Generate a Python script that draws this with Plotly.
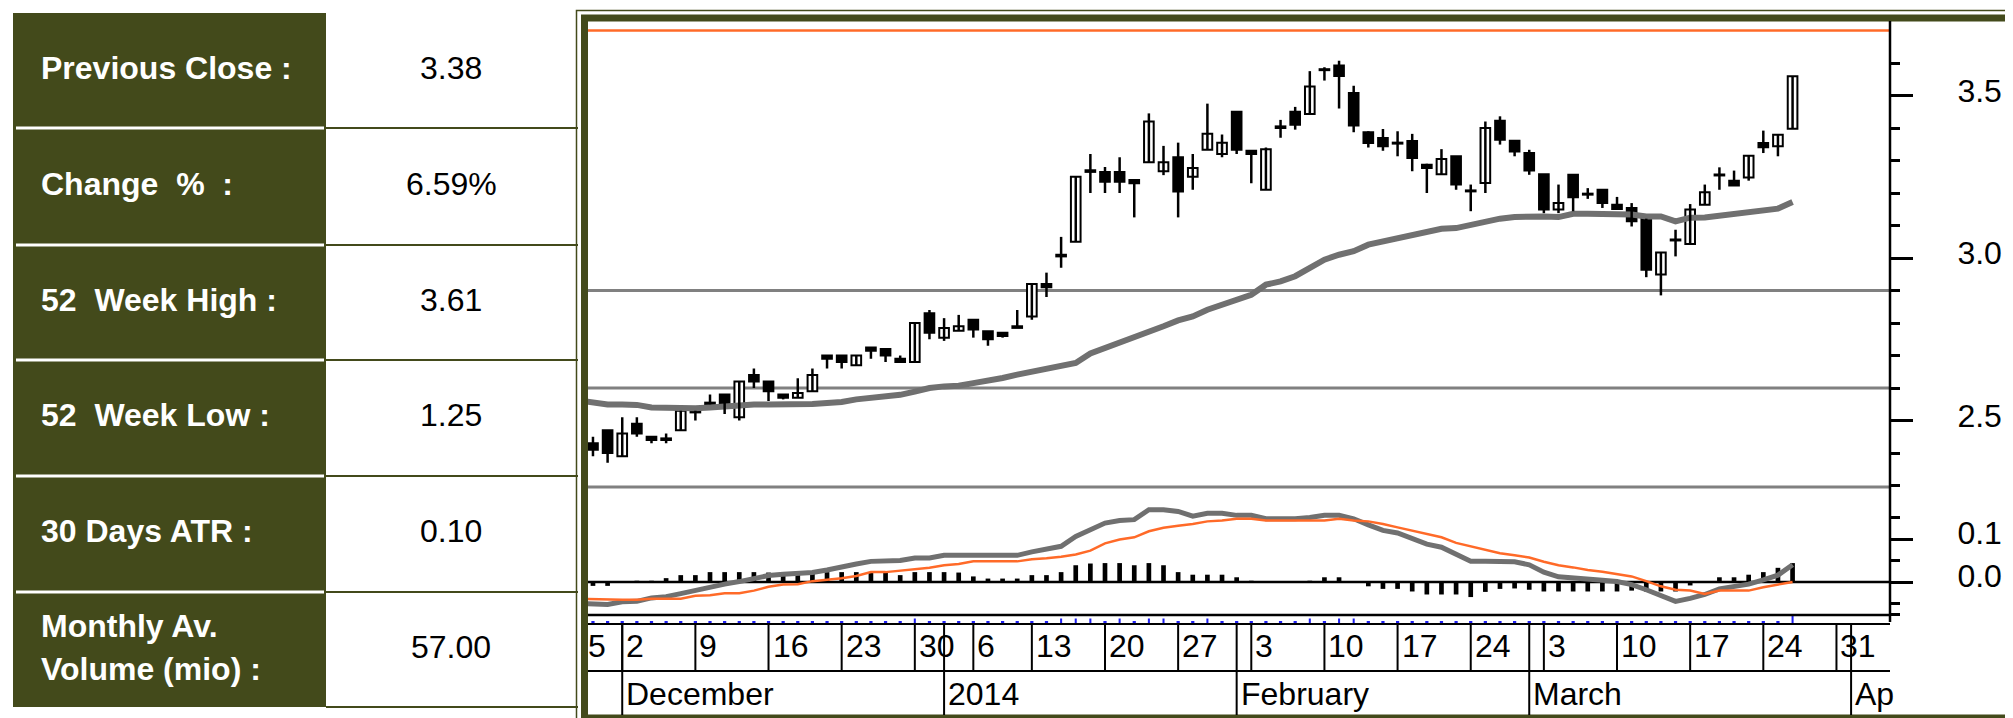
import plotly.graph_objects as go
import pandas as pd

W, H = 2013, 718

# ---------------- data ----------------
table_labels = ["Previous Close :", "Change\u00a0\u00a0%\u00a0\u00a0:", "52\u00a0\u00a0Week High :",
                "52\u00a0\u00a0Week Low :", "30 Days ATR :", "Monthly Av.", "Volume (mio) :"]
table_values = ["3.38", "6.59%", "3.61", "1.25", "0.10", "57.00"]

first_day = "2013-11-27"          # one session before the first candle
last_day = "2014-04-04"
holidays = ["2014-01-01", "2014-01-06"]

opens = [2.43, 2.47, 2.39, 2.49, 2.45, 2.445, 2.47, 2.53, 2.555, 2.58,
         2.51, 2.64, 2.62, 2.58, 2.57, 2.59, 2.70, 2.70, 2.67, 2.725,
         2.72, 2.69, 2.68, 2.83, 2.755, 2.776, 2.81, 2.775, 2.77, 2.79,
         2.82, 2.92, 3.01, 3.05, 3.27, 3.265, 3.265, 3.24, 3.295, 3.267,
         3.31, 3.25, 3.333, 3.32, 3.45, 3.33, 3.21, 3.405, 3.45, 3.443,
         3.58, 3.592, 3.508, 3.387, 3.369, 3.355, 3.36, 3.287, 3.258, 3.313,
         3.207, 3.231, 3.422, 3.361, 3.323, 3.258, 3.149, 3.256, 3.197, 3.21,
         3.164, 3.154, 3.121, 2.949, 3.056, 3.043, 3.164, 3.256, 3.238, 3.248,
         3.354, 3.344, 3.398]
highs = [2.45, 2.47, 2.51, 2.51, 2.45, 2.46, 2.53, 2.53, 2.58, 2.58,
         2.62, 2.66, 2.62, 2.58, 2.63, 2.66, 2.70, 2.70, 2.70, 2.725,
         2.72, 2.70, 2.80, 2.84, 2.815, 2.825, 2.81, 2.775, 2.77, 2.84,
         2.92, 2.955, 3.065, 3.25, 3.32, 3.28, 3.31, 3.24, 3.445, 3.345,
         3.355, 3.32, 3.475, 3.38, 3.45, 3.33, 3.34, 3.425, 3.465, 3.575,
         3.587, 3.607, 3.53, 3.39, 3.397, 3.39, 3.382, 3.29, 3.335, 3.313,
         3.226, 3.42, 3.436, 3.361, 3.333, 3.258, 3.226, 3.256, 3.215, 3.21,
         3.188, 3.169, 3.121, 3.017, 3.087, 3.166, 3.226, 3.279, 3.269, 3.315,
         3.392, 3.379, 3.559]
lows = [2.39, 2.37, 2.39, 2.45, 2.43, 2.43, 2.47, 2.50, 2.55, 2.52,
        2.50, 2.60, 2.56, 2.565, 2.57, 2.59, 2.66, 2.66, 2.67, 2.69,
        2.68, 2.68, 2.68, 2.75, 2.745, 2.776, 2.755, 2.73, 2.755, 2.785,
        2.81, 2.88, 2.97, 3.05, 3.20, 3.20, 3.20, 3.125, 3.295, 3.255,
        3.125, 3.21, 3.333, 3.31, 3.32, 3.23, 3.21, 3.37, 3.395, 3.443,
        3.546, 3.46, 3.387, 3.34, 3.33, 3.313, 3.267, 3.20, 3.258, 3.21,
        3.144, 3.20, 3.349, 3.313, 3.256, 3.138, 3.138, 3.144, 3.182, 3.154,
        3.151, 3.097, 2.941, 2.885, 3.005, 3.043, 3.164, 3.21, 3.223, 3.238,
        3.323, 3.313, 3.398]
closes = [2.41, 2.40, 2.46, 2.46, 2.44, 2.44, 2.53, 2.525, 2.55, 2.55,
          2.62, 2.62, 2.59, 2.57, 2.585, 2.64, 2.69, 2.68, 2.70, 2.715,
          2.70, 2.68, 2.80, 2.77, 2.785, 2.79, 2.78, 2.75, 2.76, 2.785,
          2.92, 2.91, 3.005, 3.25, 3.265, 3.235, 3.235, 3.23, 3.42, 3.295,
          3.205, 3.277, 3.382, 3.355, 3.333, 3.32, 3.335, 3.40, 3.41, 3.528,
          3.578, 3.56, 3.408, 3.354, 3.344, 3.352, 3.308, 3.277, 3.305, 3.226,
          3.205, 3.40, 3.364, 3.328, 3.269, 3.149, 3.169, 3.187, 3.195, 3.169,
          3.151, 3.113, 2.964, 3.017, 3.054, 3.149, 3.202, 3.254, 3.223, 3.315,
          3.341, 3.379, 3.559]

# moving average, MACD and signal start one session before the first candle
ma_values = [2.562, 2.556, 2.549, 2.549, 2.548, 2.540, 2.538, 2.538, 2.538, 2.540,
             2.544, 2.544, 2.549, 2.549, 2.549, 2.549, 2.551, 2.554, 2.557, 2.565,
             2.569, 2.576, 2.579, 2.589, 2.600, 2.605, 2.607, 2.615, 2.621, 2.631,
             2.641, 2.650, 2.658, 2.668, 2.677, 2.706, 2.722, 2.738, 2.754, 2.774,
             2.790, 2.808, 2.820, 2.841, 2.856, 2.872, 2.887, 2.918, 2.928, 2.944,
             2.969, 2.995, 3.010, 3.021, 3.041, 3.051, 3.059, 3.072, 3.082, 3.090,
             3.092, 3.103, 3.113, 3.121, 3.126, 3.128, 3.128, 3.126, 3.136, 3.136,
             3.136, 3.136, 3.134, 3.128, 3.128, 3.113, 3.124, 3.125, 3.130, 3.135,
             3.142, 3.144, 3.152, 3.172]
macd_line = [-0.050, -0.051, -0.052, -0.046, -0.045, -0.037, -0.034, -0.027, -0.019, -0.011,
             -0.005, 0.001, 0.008, 0.015, 0.018, 0.019, 0.022, 0.028, 0.036, 0.042,
             0.048, 0.048, 0.050, 0.056, 0.056, 0.062, 0.062, 0.062, 0.062, 0.062,
             0.062, 0.070, 0.077, 0.083, 0.106, 0.122, 0.137, 0.143, 0.145, 0.168,
             0.168, 0.164, 0.153, 0.160, 0.160, 0.155, 0.155, 0.147, 0.147, 0.147,
             0.150, 0.155, 0.155, 0.147, 0.133, 0.120, 0.114, 0.102, 0.088, 0.081,
             0.065, 0.048, 0.048, 0.048, 0.047, 0.040, 0.023, 0.012, 0.010, 0.008,
             0.004, 0.001, -0.006, -0.018, -0.033, -0.045, -0.038, -0.029, -0.016, -0.010,
             -0.005, 0.005, 0.016, 0.040]
signal_line = [-0.039, -0.040, -0.041, -0.041, -0.041, -0.039, -0.039, -0.039, -0.032, -0.031,
               -0.026, -0.026, -0.020, -0.011, -0.006, -0.005, 0.002, 0.005, 0.009, 0.014,
               0.023, 0.023, 0.026, 0.029, 0.033, 0.039, 0.042, 0.048, 0.048, 0.048,
               0.048, 0.053, 0.055, 0.059, 0.064, 0.073, 0.090, 0.099, 0.104, 0.118,
               0.126, 0.131, 0.135, 0.141, 0.143, 0.147, 0.147, 0.143, 0.143, 0.143,
               0.143, 0.143, 0.147, 0.143, 0.141, 0.135, 0.127, 0.119, 0.112, 0.104,
               0.091, 0.083, 0.075, 0.067, 0.062, 0.057, 0.047, 0.039, 0.034, 0.028,
               0.024, 0.019, 0.013, 0.002, -0.010, -0.018, -0.020, -0.028, -0.020, -0.020,
               -0.020, -0.012, -0.006, 0.000]
macd_hist = [-0.009, -0.009, 0.001, 0.003, 0.003, 0.009, 0.016, 0.016, 0.023, 0.023,
             0.023, 0.023, 0.022, 0.023, 0.023, 0.023, 0.023, 0.023, 0.023, 0.022,
             0.023, 0.016, 0.023, 0.023, 0.023, 0.022, 0.013, 0.008, 0.008, 0.008,
             0.016, 0.016, 0.023, 0.039, 0.043, 0.044, 0.044, 0.039, 0.044, 0.039,
             0.023, 0.017, 0.017, 0.017, 0.011, 0.003, 0.002, 0.002, 0.002, 0.003,
             0.011, 0.011, 0.002, -0.010, -0.016, -0.016, -0.022, -0.029, -0.029, -0.029,
             -0.035, -0.023, -0.016, -0.015, -0.018, -0.022, -0.022, -0.022, -0.022, -0.022,
             -0.022, -0.020, -0.022, -0.022, -0.022, -0.008, 0.000, 0.011, 0.011, 0.017,
             0.023, 0.033, 0.044]

resistance_level = 3.70
support_levels = [2.9, 2.6]

blue_tall_sessions = [22, 32, 33, 34, 36, 38, 39, 42, 49, 51, 52]
blue_last_session = 82

week_mondays = ["2013-12-02", "2013-12-09", "2013-12-16", "2013-12-23", "2013-12-30",
                "2014-01-06", "2014-01-13", "2014-01-20", "2014-01-27", "2014-02-03",
                "2014-02-10", "2014-02-17", "2014-02-24", "2014-03-03", "2014-03-10",
                "2014-03-17", "2014-03-24", "2014-03-31"]
month_marks = ["2013-12-02", "2014-01-02", "2014-01-31", "2014-02-28", "2014-04-01"]
month_labels = ["December", "2014", "February", "March", "Ap"]
clipped_week_label = "5"

price_ticks = [2.5, 3.0, 3.5]
price_minor = [2.3, 2.4, 2.6, 2.7, 2.8, 2.9, 3.1, 3.2, 3.3, 3.4, 3.6]
ind_ticks = [0.0, 0.1]
ind_minor = [-0.075, -0.05, 0.05, 0.15]

# ---------------- helpers ----------------
DARK = "#434a1b"
ORANGE = "#ff6a28"
GRAY = "#707070"
FONT = "Liberation Sans, Arial, sans-serif"


def X(p):
    return p / W


def Y(p):
    return 1 - p / H


days = [d for d in pd.bdate_range(first_day, last_day) if d.strftime("%Y-%m-%d") not in holidays]
session = {d.strftime("%Y-%m-%d"): i - 1 for i, d in enumerate(days)}


def session_on_or_after(date):
    t = pd.Timestamp(date)
    for d in days:
        if d >= t:
            return session[d.strftime("%Y-%m-%d")]


n = len(opens)
kx = list(range(n))
line_x = list(range(-1, n))
XR = [-0.34, 88.66]
xdom = [X(580), X(1882)]

fig = go.Figure()

# moving average
fig.add_trace(go.Scatter(x=line_x, y=ma_values, mode="lines", line=dict(color=GRAY, width=6),
                         xaxis="x", yaxis="y", hoverinfo="skip"))
# wicks
wx, wy = [], []
for i in kx:
    wx += [i, i, None]
    wy += [lows[i], highs[i], None]
fig.add_trace(go.Scatter(x=wx, y=wy, mode="lines", line=dict(color="black", width=2.5),
                         xaxis="x", yaxis="y", hoverinfo="skip"))
# bodies
bases = [min(o, c) for o, c in zip(opens, closes)]
heights = [max(abs(c - o), 0.003) for o, c in zip(opens, closes)]
fills = ["white" if c >= o else "black" for o, c in zip(opens, closes)]
fig.add_trace(go.Bar(x=kx, y=heights, base=bases, width=0.66,
                     marker=dict(color=fills, line=dict(color="black", width=2)),
                     xaxis="x", yaxis="y", hoverinfo="skip"))

# MACD panel
fig.add_trace(go.Bar(x=kx, y=macd_hist, width=0.32, marker=dict(color="black", line=dict(width=0)),
                     xaxis="x2", yaxis="y2", hoverinfo="skip"))
fig.add_trace(go.Scatter(x=line_x, y=macd_line, mode="lines", line=dict(color=GRAY, width=5),
                         xaxis="x2", yaxis="y2", hoverinfo="skip"))
fig.add_trace(go.Scatter(x=line_x, y=signal_line, mode="lines", line=dict(color=ORANGE, width=2.5),
                         xaxis="x2", yaxis="y2", hoverinfo="skip"))

# blue session marks
bh, bw = [], []
for i in kx:
    if i == blue_last_session:
        bh.append(7.0); bw.append(0.14)
    elif i in blue_tall_sessions:
        bh.append(4.5); bw.append(0.14)
    else:
        bh.append(2.0); bw.append(0.22)
fig.add_trace(go.Bar(x=kx, y=bh, base=[1] * n, width=bw, marker=dict(color="#1f1ff0", line=dict(width=0)),
                     xaxis="x3", yaxis="y3", hoverinfo="skip"))

shapes = []
# table
shapes.append(dict(type="rect", xref="paper", yref="paper", x0=X(5), x1=X(318), y0=Y(699), y1=Y(5),
                   fillcolor=DARK, line=dict(width=0), layer="below"))
row_bounds = [120, 237, 352, 468, 584]
for b in row_bounds:
    shapes.append(dict(type="line", xref="paper", yref="paper", x0=X(8), x1=X(316), y0=Y(b), y1=Y(b),
                       line=dict(color="white", width=3)))
for b in row_bounds + [699]:
    shapes.append(dict(type="line", xref="paper", yref="paper", x0=X(318), x1=X(570), y0=Y(b), y1=Y(b),
                       line=dict(color=DARK, width=2)))
# chart frame
shapes.append(dict(type="rect", xref="paper", yref="paper", x0=X(568.5), x1=X(2030), y0=Y(716.5), y1=Y(2.5),
                   line=dict(color=DARK, width=1.5)))
shapes.append(dict(type="rect", xref="paper", yref="paper", x0=X(576.5), x1=X(2009.5), y0=Y(710), y1=Y(10),
                   line=dict(color=DARK, width=7)))
# price panel levels
shapes.append(dict(type="line", xref="x domain", yref="y", x0=0, x1=1, y0=resistance_level, y1=resistance_level,
                   line=dict(color=ORANGE, width=2.5)))
for lv in support_levels:
    shapes.append(dict(type="line", xref="x domain", yref="y", x0=0, x1=1, y0=lv, y1=lv,
                       line=dict(color="#808080", width=3), layer="below"))
# panel separator
shapes.append(dict(type="line", xref="paper", yref="paper", x0=X(580), x1=X(1882), y0=Y(479), y1=Y(479),
                   line=dict(color="#808080", width=3)))
# zero line
shapes.append(dict(type="line", xref="x2 domain", yref="y2", x0=0, x1=1, y0=0, y1=0,
                   line=dict(color="black", width=2.5), layer="below"))
# horizontal rules below MACD panel
for yy, wd in [(607, 2.5), (616, 2), (663, 2)]:
    shapes.append(dict(type="line", xref="paper", yref="paper", x0=X(580), x1=X(1882), y0=Y(yy), y1=Y(yy),
                       line=dict(color="black", width=wd)))
# right axis line
shapes.append(dict(type="line", xref="paper", yref="paper", x0=X(1882), x1=X(1882), y0=Y(614), y1=Y(13),
                   line=dict(color="black", width=2.5)))

annotations = []
# week separators / labels
for m in week_mondays:
    k = session_on_or_after(m)
    shapes.append(dict(type="line", xref="x4", yref="y4", x0=k, x1=k, y0=616, y1=663,
                       line=dict(color="black", width=2)))
    annotations.append(dict(xref="x4", yref="y4", x=k, y=638, xanchor="left", yanchor="middle",
                            xshift=2, text=str(pd.Timestamp(m).day), showarrow=False,
                            font=dict(family=FONT, size=32, color="black")))
annotations.append(dict(xref="paper", yref="paper", x=X(578), y=Y(638), xanchor="left", yanchor="middle",
                        text=clipped_week_label, showarrow=False, font=dict(family=FONT, size=32, color="black")))
# month separators / labels
for m, lab in zip(month_marks, month_labels):
    k = session[m]
    shapes.append(dict(type="line", xref="x4", yref="y4", x0=k, x1=k, y0=616, y1=707,
                       line=dict(color="black", width=2)))
    annotations.append(dict(xref="x4", yref="y4", x=k, y=686, xanchor="left", yanchor="middle",
                            xshift=2, text=lab, showarrow=False,
                            font=dict(family=FONT, size=32, color="black")))

# table text
row_centers = [60, 176, 292, 407, 523, 618, 661]
for lab, yc in zip(table_labels, row_centers):
    annotations.append(dict(xref="paper", yref="paper", x=X(31), y=Y(yc), xanchor="left", yanchor="middle",
                            text="<b>" + lab + "</b>", showarrow=False,
                            font=dict(family=FONT, size=32, color="white")))
value_centers = [60, 176, 292, 407, 523, 639]
for val, yc in zip(table_values, value_centers):
    annotations.append(dict(xref="paper", yref="paper", x=X(443), y=Y(yc), xanchor="center", yanchor="middle",
                            text=val, showarrow=False, font=dict(family=FONT, size=32, color="black")))

hidden_x = dict(domain=xdom, range=XR, showticklabels=False, showgrid=False, zeroline=False,
                showline=False, ticks="", fixedrange=True)

fig.update_layout(
    width=W, height=H, margin=dict(l=0, r=0, t=0, b=0), autosize=False,
    paper_bgcolor="white", plot_bgcolor="rgba(0,0,0,0)", showlegend=False, barmode="overlay",
    xaxis=dict(**hidden_x, anchor="y"),
    xaxis2=dict(**hidden_x, anchor="y2", matches="x"),
    xaxis3=dict(**hidden_x, anchor="y3", matches="x"),
    xaxis4=dict(**hidden_x, anchor="y4", matches="x"),
    yaxis=dict(domain=[Y(478), Y(14)], range=[2.2985, 3.7262], anchor="x", side="right",
               showgrid=False, zeroline=False, showline=False,
               ticks="outside", tickvals=price_ticks, ticktext=[f"{v:.1f}" for v in price_ticks],
               ticklen=22, tickwidth=3, tickcolor="black",
               minor=dict(tickvals=price_minor, ticks="outside", ticklen=9, tickwidth=2.5, tickcolor="black"),
               tickfont=dict(family=FONT, size=32, color="black"),
               ticklabelstandoff=38, ticklabelshift=-5),
    yaxis2=dict(domain=[Y(607), Y(480)], range=[-0.0767, 0.2186], anchor="x2", side="right",
                showgrid=False, zeroline=False, showline=False,
                ticks="outside", tickvals=ind_ticks, ticktext=[f"{v:.1f}" for v in ind_ticks],
                ticklen=22, tickwidth=3, tickcolor="black",
                minor=dict(tickvals=ind_minor, ticks="outside", ticklen=9, tickwidth=2.5, tickcolor="black"),
                tickfont=dict(family=FONT, size=32, color="black"),
                ticklabelstandoff=38, ticklabelshift=-6),
    yaxis3=dict(domain=[Y(616), Y(607)], range=[0, 9], anchor="x3", visible=False),
    yaxis4=dict(domain=[Y(708), Y(616)], range=[708, 616], anchor="x4", visible=False),
    shapes=shapes, annotations=annotations,
)

fig.write_html("out.html")
